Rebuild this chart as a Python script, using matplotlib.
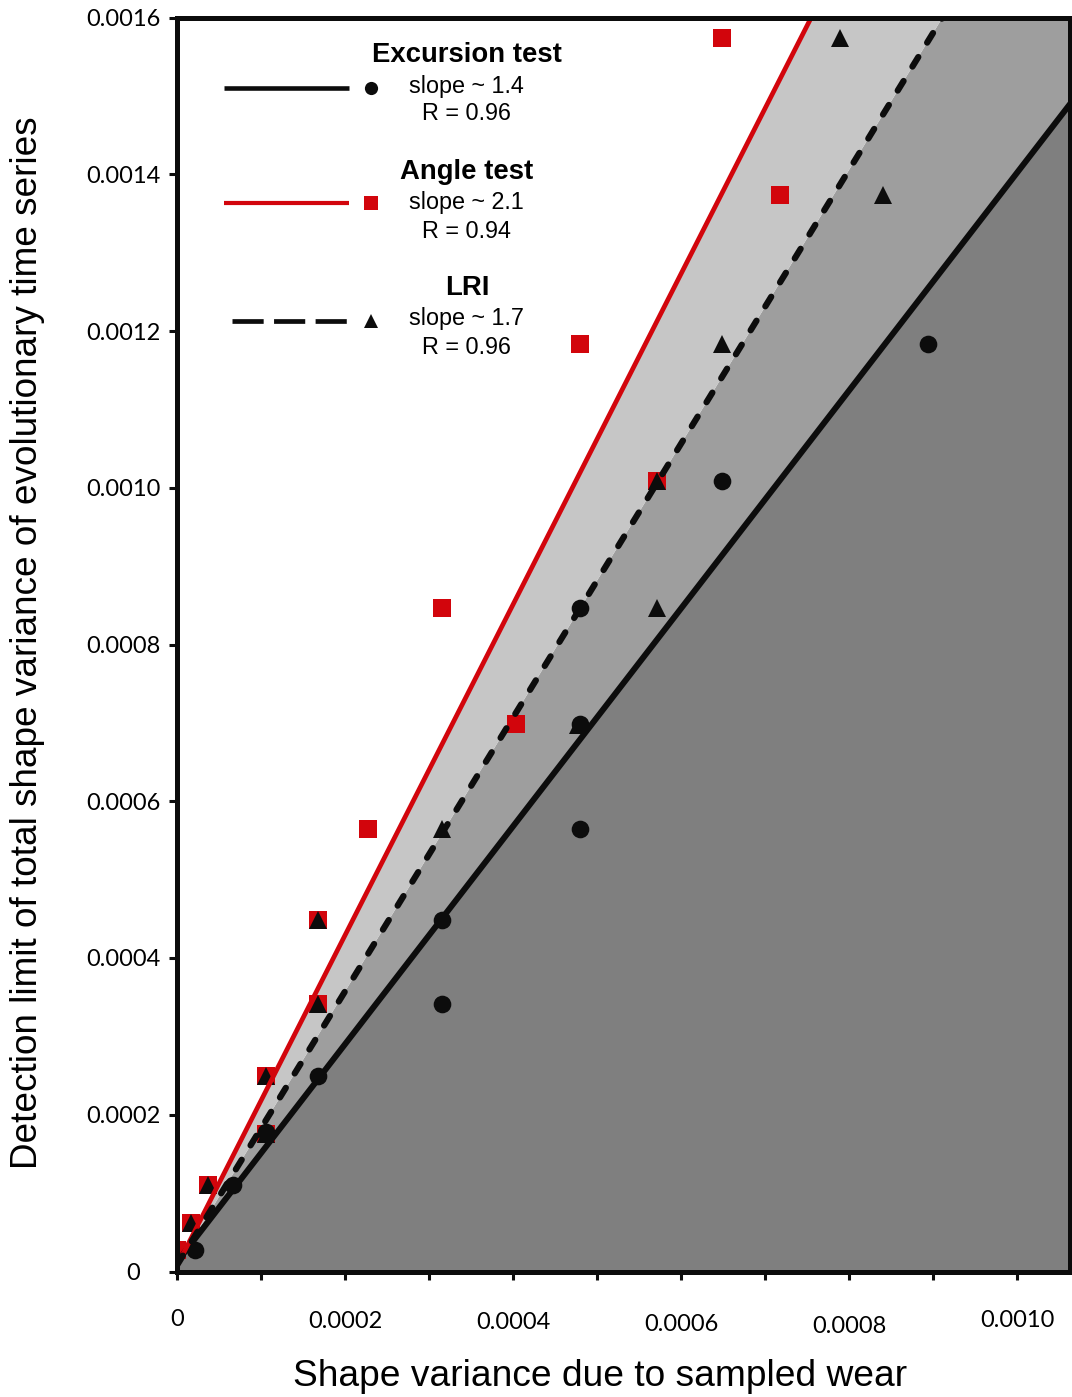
import numpy as np
import matplotlib
matplotlib.use('Agg')
import matplotlib.pyplot as plt
from matplotlib.lines import Line2D
from matplotlib.transforms import ScaledTranslation

#%% data

# Excursion test (black circles)
exc_x = [0.000021, 0.000067, 0.000106, 0.000168, 0.000315, 0.000315, 0.00048, 0.00048, 0.00048, 0.000649, 0.000894]
exc_y = [0.000027, 0.00011, 0.000178, 0.00025, 0.000341, 0.000448, 0.000565, 0.000699, 0.000846, 0.001008, 0.001183]

# Angle test (red squares)
ang_x = [0.0, 0.000017, 0.000037, 0.000106, 0.000106, 0.000168, 0.000168, 0.000227, 0.000315, 0.000404, 0.00048, 0.000571, 0.000649, 0.000718]
ang_y = [0.000027, 0.0000625, 0.00011, 0.000176, 0.00025, 0.000341, 0.000448, 0.000565, 0.000846, 0.000699, 0.001183, 0.001008, 0.001574, 0.001373]

# LRI (black triangles)
lri_x = [0.000017, 0.000037, 0.000106, 0.000106, 0.000168, 0.000168, 0.000315, 0.000477, 0.000571, 0.000571, 0.000649, 0.000789, 0.00084]
lri_y = [0.0000625, 0.00011, 0.000176, 0.00025, 0.000341, 0.000448, 0.000565, 0.000697, 0.000846, 0.001008, 0.001183, 0.001574, 0.001373]

# fitted lines: slope, intercept
exc_fit = (1.39, 0.000012)
ang_fit = (2.11, 0.000007)
lri_fit = (1.747, 0.000008)

legend_names = ['Excursion test', 'Angle test', 'LRI']
legend_slopes = ['slope ~ 1.4', 'slope ~ 2.1', 'slope ~ 1.7']
legend_r = ['R = 0.96', 'R = 0.94', 'R = 0.96']

xticks = [0, 0.0002, 0.0004, 0.0006, 0.0008, 0.0010]
xticklabels = ['0', '0.0002', '0.0004', '0.0006', '0.0008', '0.0010']
yticks = [0, 0.0002, 0.0004, 0.0006, 0.0008, 0.0010, 0.0012, 0.0014, 0.0016]
yticklabels = ['0', '0.0002', '0.0004', '0.0006', '0.0008', '0.0010', '0.0012', '0.0014', '0.0016']

#%% figure

W, H = 1072, 1397
RED = '#d2050c'
BLK = '#0c0c0c'

fig = plt.figure(figsize=(W/100, H/100), dpi=100)
ax = fig.add_axes([177/W, 1-1271.5/H, (1070-177)/W, (1271.5-17.5)/H])
xmax = 0.001063
ax.set_xlim(0, xmax)
ax.set_ylim(0, 0.0016)

xs = np.linspace(0, xmax, 400)
y_exc = exc_fit[0]*xs + exc_fit[1]
y_lri = np.maximum(lri_fit[0]*xs + lri_fit[1], y_exc)
y_ang = np.maximum(ang_fit[0]*xs + ang_fit[1], y_lri)

ax.fill_between(xs, 0, y_exc, color='#7f7f7f', lw=0, zorder=1)
ax.fill_between(xs, y_exc, y_lri, color='#9e9e9e', lw=0, zorder=1)
ax.fill_between(xs, y_lri, y_ang, color='#c6c6c6', lw=0, zorder=1)

ax.plot(ang_x, ang_y, 's', color=RED, ms=12.8, mew=0, zorder=2)
ax.plot(lri_x, lri_y, '^', color=BLK, ms=13, mew=0, zorder=2.1)
ax.plot(exc_x, exc_y, 'o', color=BLK, ms=12.7, mew=0, zorder=2.2)

ax.plot(xs, exc_fit[0]*xs + exc_fit[1], color=BLK, lw=4.3, zorder=3)
ax.plot(xs, ang_fit[0]*xs + ang_fit[1], color=RED, lw=3.4, zorder=3)
ax.plot(xs, lri_fit[0]*xs + lri_fit[1], color=BLK, lw=4.5, ls=(0, (1.8, 2.7)),
        dash_capstyle='round', zorder=3)

# axes styling
for side in ['left', 'bottom', 'top', 'right']:
    ax.spines[side].set_linewidth(3.6)
    ax.spines[side].set_color(BLK)
    ax.spines[side].set_zorder(5)

tick_font = dict(family=['Lato', 'DejaVu Sans'], size=17)
ax.set_xticks(xticks)
ax.set_xticklabels(xticklabels, fontdict=tick_font)
ax.set_xticks(np.arange(0.0001, xmax, 0.0002), minor=True)
ax.set_yticks(yticks)
ax.set_yticklabels(yticklabels, fontdict=tick_font)
ax.tick_params(axis='x', which='both', direction='out', length=6, width=2.2, pad=21, color=BLK)
ax.tick_params(axis='y', which='major', direction='out', length=6, width=2.2, pad=6, color=BLK)

# odd vertical stagger of the x labels in the original
x_offsets = [0, 2, 3, 5, 7, 1]
for lab, d in zip(ax.get_xticklabels(), x_offsets):
    lab.set_transform(lab.get_transform() + ScaledTranslation(0, -d/100, fig.dpi_scale_trans))
ylabs = ax.get_yticklabels()
ylabs[0].set_transform(ylabs[0].get_transform() + ScaledTranslation(-20/100, 0, fig.dpi_scale_trans))

label_font = ['Liberation Sans', 'DejaVu Sans']
fig.text(600/W, 1-1376/H, 'Shape variance due to sampled wear', ha='center', va='center',
         family=label_font, size=26.7)
fig.text(28/W, 1-643/H, 'Detection limit of total shape variance of evolutionary time series',
         ha='center', va='center', rotation=90, family=label_font, size=26.6)

#%% legend drawn by hand

def fx(px):
    return px/W

def fy(py):
    return 1-py/H

rows = [55, 172, 288]
line_y = [88, 203, 321]
for i, name in enumerate(legend_names):
    fig.text(fx(467), fy(rows[i]), name, ha='center', va='center', weight='bold',
             family=label_font, size=19.8)
    fig.text(fx(466), fy(rows[i]+31), legend_slopes[i], ha='center', va='center',
             family=label_font, size=16.8)
    fig.text(fx(466), fy(rows[i]+59), legend_r[i], ha='center', va='center',
             family=label_font, size=16.8)

fig.add_artist(Line2D([fx(224), fx(349)], [fy(line_y[0])]*2, color=BLK, lw=3.3,
                      solid_capstyle='butt'))
fig.add_artist(Line2D([fx(224), fx(349)], [fy(line_y[1])]*2, color=RED, lw=3.0,
                      solid_capstyle='butt'))
fig.add_artist(Line2D([fx(232), fx(349)], [fy(line_y[2])]*2, color=BLK, lw=3.4,
                      ls=(0, (6.6, 2.2)), dash_capstyle='butt'))
fig.add_artist(Line2D([fx(371)], [fy(line_y[0])], marker='o', color=BLK, ms=9.5, mew=0))
fig.add_artist(Line2D([fx(371)], [fy(line_y[1])], marker='s', color=RED, ms=10, mew=0))
fig.add_artist(Line2D([fx(371)], [fy(line_y[2])], marker='^', color=BLK, ms=10, mew=0))

plt.savefig('out.png', dpi=100)
